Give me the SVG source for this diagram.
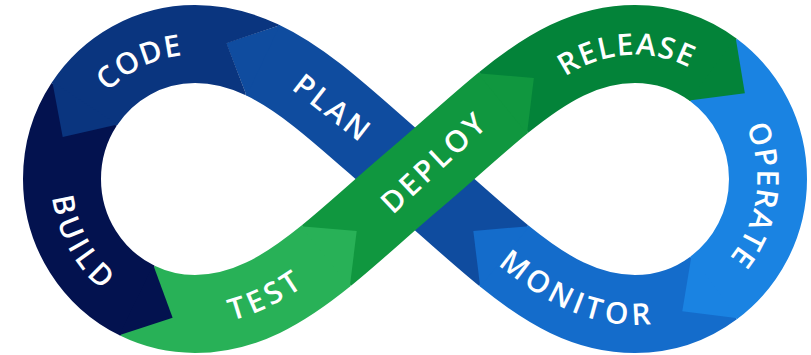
<svg xmlns="http://www.w3.org/2000/svg" width="811" height="355" viewBox="0 0 811 355">
<style>
.band{fill:none;stroke-width:78;stroke-linecap:butt;stroke-linejoin:round}
.lbl{font-family:"Open Sans","DejaVu Sans",sans-serif;font-weight:600;font-size:30px;fill:#ffffff;letter-spacing:3px;text-anchor:middle}
</style>
<defs>
<path id="p-code" d="M66.5,144 A133,135 0 0 1 251.2,56.7"/>
<path id="p-plan" d="M254.2,46.4 L411.8,169.6"/>
<path id="p-build" d="M83.5,105.3 A133,135 0 0 0 187.8,313.8"/>
<path id="p-test" d="M195,314 C243.8,314 283.67,290.19 326.41,255.5"/>
<path id="p-deploy" d="M360.9,230.2 L507.1,93.8"/>
<path id="p-release" d="M516,118.8 A133,135 0 0 1 745.9,104.5"/>
<path id="p-operate" d="M716.9,72.6 A133,135 0 0 1 684.8,304.2"/>
<path id="p-monitor" d="M503.59,255.5 C546.33,290.19 586.2,314 635,314 C664.4,314 691.56,304.34 713.57,287.97"/>
<clipPath id="code-clip" clipPathUnits="userSpaceOnUse">
<path clip-rule="evenodd" d="M0,0H811V355H0Z M279.92,25.17 L226.63,43.14 L246.6,95.71 Z"/>
</clipPath>
</defs>

<g id="plan">
<path class="band" stroke="#0f4c9f" d="M503.59,255.5 C476.26,233.32 447.76,206.69 415,179 C356.2,129.3 311.1,83.0 261.9,59.8"/>
<polygon fill="#0f4c9f" points="279.92,25.17 226.13,42.9 246.6,95.71"/>
<text class="lbl" dy="0.36em"><textPath href="#p-plan" startOffset="50%">PLAN</textPath></text>
</g>

<g id="monitor">
<path class="band" stroke="#146ccb" d="M713.57,287.97 C691.56,304.34 664.4,314 635,314 C586.2,314 546.33,290.19 503.59,255.5"/>
<polygon fill="#146ccb" points="529.33,226.17 473.31,230.92 480.17,286.73"/>
<text class="lbl" dy="0.36em"><textPath href="#p-monitor" startOffset="36%">MONITOR</textPath></text>
</g>

<g id="operate">
<path class="band" stroke="#1a83e2" d="M713.57,70.03 C746.58,94.59 768,134.24 768,179 C768,223.76 746.58,263.41 713.57,287.97"/>
<polygon fill="#1a83e2" points="738.05,318.36 682.28,311.25 691.49,255.78"/>
<text class="lbl" dy="0.36em"><textPath href="#p-operate" startOffset="50%">OPERATE</textPath></text>
</g>

<g id="release">
<path class="band" stroke="#038339" d="M503.59,102.5 C546.33,67.81 586.2,44 635,44 C664.4,44 691.56,53.66 713.57,70.03"/>
<polygon fill="#038339" points="735.65,37.84 744.86,93.31 689.09,100.42"/>
<text class="lbl" dy="0.36em"><textPath href="#p-release" startOffset="50%">RELEASE</textPath></text>
</g>

<g id="deploy">
<path class="band" stroke="#10973f" d="M326.41,255.5 C353.74,233.32 382.24,206.69 415,179 C447.76,151.31 476.26,124.68 503.59,102.5"/>
<polygon fill="#10973f" points="527.01,133.73 533.87,77.92 477.85,73.17"/>
<text class="lbl" dy="0.36em"><textPath href="#p-deploy" startOffset="50%">DEPLOY</textPath></text>
</g>

<g id="test">
<path class="band" stroke="#28b157" d="M137.55,300.8 C154.94,309.27 174.42,314 195,314 C243.8,314 283.67,290.19 326.41,255.5"/>
<polygon fill="#28b157" points="349.83,286.73 356.69,230.92 300.67,226.17"/>
<text class="lbl" dy="0.36em"><textPath href="#p-test" startOffset="50%">TEST</textPath></text>
</g>

<g id="build">
<path class="band" stroke="#03124f" d="M84.1,104.35 C70.1,125.7 62,151.4 62,179 C62,232.7 92.84,279.06 137.55,300.8"/>
<polygon fill="#03124f" points="153.26,265.07 172.62,317.86 119.14,335.21"/>
<text class="lbl" dy="0.36em"><textPath href="#p-build" startOffset="52%">BUILD</textPath></text>
</g>

<g id="code">
<path class="band" stroke="#0a357f" clip-path="url(#code-clip)" d="M261.9,59.8 C240.8,49.8 219,44 195,44 C148.7,44 107.9,68.0 84.1,104.35"/>
<polygon fill="#0a357f" points="117.54,124.47 62.73,136.97 52.3,81.73"/>
<text class="lbl" dy="0.36em"><textPath href="#p-code" startOffset="50%">CODE</textPath></text>
</g>
</svg>
